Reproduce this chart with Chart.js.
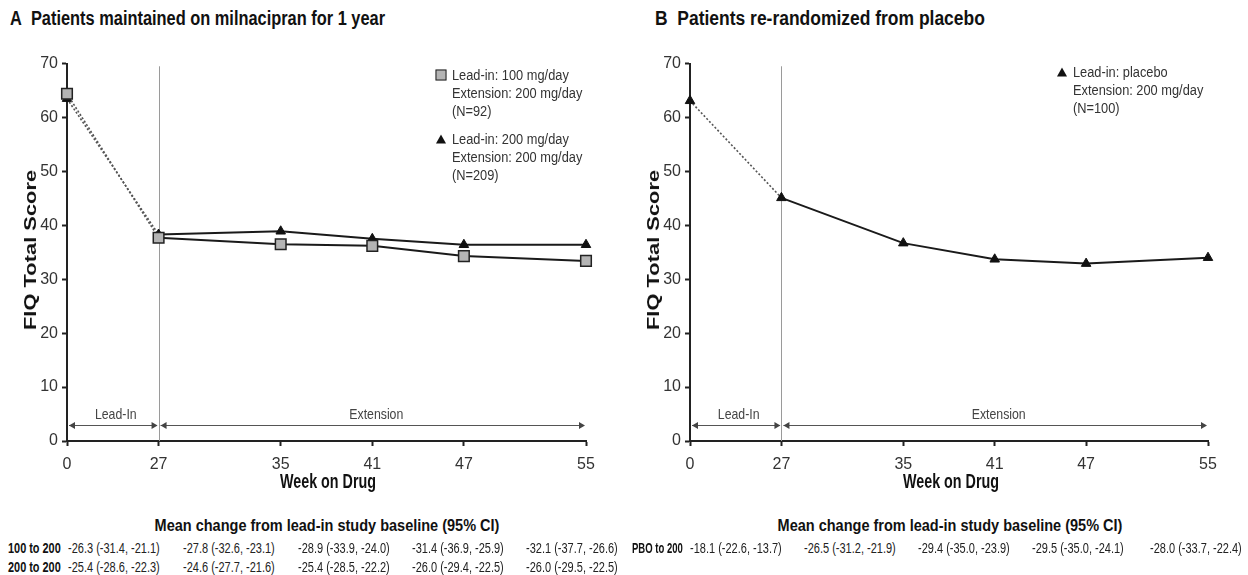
<!DOCTYPE html>
<html><head><meta charset="utf-8">
<script src="https://cdn.jsdelivr.net/npm/chart.js@4.4.0/dist/chart.umd.min.js"></script>
<style>
html,body{margin:0;padding:0;background:#fff;}
body{width:1248px;height:575px;position:relative;overflow:hidden;
 font-family:"Liberation Sans",Arial,sans-serif;color:#222;}
.c{position:absolute;white-space:nowrap;transform:translate(-50%,-50%);transform-origin:50% 50%;}
.l{position:absolute;white-space:nowrap;transform:translateY(-50%);transform-origin:0 50%;}
.title{font-weight:bold;font-size:20px;color:#111;}
.ytitle{position:absolute;white-space:nowrap;font-weight:bold;font-size:16px;color:#111;transform:translate(-50%,-50%) rotate(-90deg);transform-origin:50% 50%;}
.xtitle{font-weight:bold;font-size:20px;color:#111;}
.thead{font-weight:bold;font-size:16px;color:#111;}
.cell{font-size:14px;color:#222;}
.rowlab{font-size:14px;font-weight:bold;color:#111;}
.leg{font-size:14px;color:#333;line-height:18px;}
.sq{position:absolute;width:9px;height:9px;background:#b4b4b4;border:1.5px solid #222;transform:translate(-50%,-50%);}
.tri{position:absolute;width:0;height:0;border-left:5px solid transparent;border-right:5px solid transparent;border-bottom:9px solid #111;transform:translate(-50%,-50%);}
.box{position:absolute;}
</style></head>
<body>
<div class="l title fit" data-w="375" style="left:10px;top:18px">A&nbsp; Patients maintained on milnacipran for 1 year</div>
<div class="l title fit" data-w="330" style="left:655px;top:18px">B&nbsp; Patients re-randomized from placebo</div>

<div class="box" style="left:0;top:50px;width:620px;height:430px"><canvas id="cA"></canvas></div>
<div class="box" style="left:623px;top:50px;width:625px;height:430px"><canvas id="cB"></canvas></div>

<div class="ytitle fit" data-w="160" style="left:31px;top:250px">FIQ Total Score</div>
<div class="ytitle fit" data-w="160" style="left:654px;top:250px">FIQ Total Score</div>
<div class="c xtitle fit" data-w="96" style="left:328px;top:481px">Week on Drug</div>
<div class="c xtitle fit" data-w="96" style="left:951px;top:481px">Week on Drug</div>

<div class="sq" style="left:441px;top:75px"></div>
<div class="l leg fit" data-w="130" style="left:452px;top:93px">Lead-in: 100 mg/day<br>Extension: 200 mg/day<br>(N=92)</div>
<div class="tri" style="left:441px;top:139px"></div>
<div class="l leg fit" data-w="130" style="left:452px;top:157px">Lead-in: 200 mg/day<br>Extension: 200 mg/day<br>(N=209)</div>
<div class="tri" style="left:1062px;top:72px"></div>
<div class="l leg fit" data-w="130" style="left:1073px;top:90px">Lead-in: placebo<br>Extension: 200 mg/day<br>(N=100)</div>

<div id="tables"></div>

<script>
// ---------------- data ----------------
const weeks = [0, 27, 35, 41, 47, 55];
const weekLabels = ['0', '27', '35', '41', '47', '55'];
const seriesA100 = [64.4, 37.7, 36.5, 36.2, 34.3, 33.4];
const seriesA200 = [63.5, 38.3, 38.9, 37.5, 36.4, 36.4];
const seriesB = [63.1, 45.1, 36.7, 33.7, 32.9, 34.0];
const legendA100 = 'Lead-in: 100 mg/day, Extension: 200 mg/day (N=92)';
const legendA200 = 'Lead-in: 200 mg/day, Extension: 200 mg/day (N=209)';
const legendB = 'Lead-in: placebo, Extension: 200 mg/day (N=100)';
const tableHeader = 'Mean change from lead-in study baseline (95% CI)';
const rowLabelsA = ['100 to 200', '200 to 200'];
const row100 = ['-26.3 (-31.4, -21.1)', '-27.8 (-32.6, -23.1)', '-28.9 (-33.9, -24.0)', '-31.4 (-36.9, -25.9)', '-32.1 (-37.7, -26.6)'];
const row200 = ['-25.4 (-28.6, -22.3)', '-24.6 (-27.7, -21.6)', '-25.4 (-28.5, -22.2)', '-26.0 (-29.4, -22.5)', '-26.0 (-29.5, -22.5)'];
const rowLabelsB = ['PBO to 200'];
const rowPbo = ['-18.1 (-22.6, -13.7)', '-26.5 (-31.2, -21.9)', '-29.4 (-35.0, -23.9)', '-29.5 (-35.0, -24.1)', '-28.0 (-33.7, -22.4)'];

// ---------------- layout helpers ----------------
const FONT = '"Liberation Sans",Arial,sans-serif';
const LEAD_WEEKS = 27, LEAD_SPAN = 6; // lead-in period is drawn compressed on the axis
function axisPos(w) { return w <= LEAD_WEEKS ? (LEAD_WEEKS - LEAD_SPAN) + w * LEAD_SPAN / LEAD_WEEKS : w; }
function pts(vals) { return weeks.map((w, i) => ({x: axisPos(w), y: vals[i]})); }

const tbl = document.getElementById('tables');
function addText(cls, txt, left, top, center, w) {
  const d = document.createElement('div');
  d.className = (center ? 'c ' : 'l ') + cls + ' fit';
  d.dataset.w = w;
  d.style.left = left + 'px'; d.style.top = top + 'px';
  d.textContent = txt; tbl.appendChild(d); return d;
}
addText('thead', tableHeader, 327, 526, true, 345);
addText('thead', tableHeader, 950, 526, true, 345);
const colA = [68, 183, 298, 412, 526];
addText('rowlab', rowLabelsA[0], 8, 548, false, 53);
addText('rowlab', rowLabelsA[1], 8, 567, false, 53);
row100.forEach((t, i) => addText('cell', t, colA[i], 548, false, 92));
row200.forEach((t, i) => addText('cell', t, colA[i], 567, false, 92));
const colB = [690, 804, 918, 1032, 1150];
addText('rowlab', rowLabelsB[0], 632, 548, false, 51);
rowPbo.forEach((t, i) => addText('cell', t, colB[i], 548, false, 92));

function fitAll() {
  document.querySelectorAll('.fit').forEach(el => {
    const base = el.classList.contains('ytitle') ? 'translate(-50%,-50%) rotate(-90deg)' :
                 el.classList.contains('c') ? 'translate(-50%,-50%)' : 'translateY(-50%)';
    el.style.transform = base;
    const nat = el.offsetWidth;
    const s = nat > 0 ? (+el.dataset.w) / nat : 1;
    el.style.transform = base + ' scaleX(' + s.toFixed(3) + ')';
  });
}
fitAll();

// ---------------- annotation plugin ----------------
const periodPlugin = {
  id: 'period',
  beforeDatasetsDraw(chart) {
    const {ctx, scales: {x, y}} = chart;
    const x0 = x.getPixelForValue(axisPos(0));
    const x27 = x.getPixelForValue(axisPos(27));
    const x55 = x.getPixelForValue(axisPos(55));
    ctx.save();
    ctx.strokeStyle = '#9a9a9a'; ctx.lineWidth = 1;
    ctx.beginPath(); ctx.moveTo(Math.round(x27) + 0.5, y.getPixelForValue(69.5)); ctx.lineTo(Math.round(x27) + 0.5, y.getPixelForValue(0)); ctx.stroke();
    const ay = Math.round(y.getPixelForValue(3)) + 0.5;
    ctx.strokeStyle = '#555'; ctx.fillStyle = '#444'; ctx.lineWidth = 1;
    function head(tip, dir) {
      ctx.beginPath(); ctx.moveTo(tip, ay); ctx.lineTo(tip - dir * 6, ay - 3.5); ctx.lineTo(tip - dir * 6, ay + 3.5); ctx.closePath(); ctx.fill();
    }
    ctx.beginPath(); ctx.moveTo(x0 + 2, ay); ctx.lineTo(x27 - 2, ay); ctx.moveTo(x27 + 2, ay); ctx.lineTo(x55 - 2, ay); ctx.stroke();
    head(x0 + 2, -1); head(x27 - 1, 1); head(x27 + 2, -1); head(x55 - 1, 1);
    ctx.fillStyle = '#444'; ctx.textAlign = 'center'; ctx.textBaseline = 'middle';
    function label(t, cx, cy) {
      ctx.save(); ctx.translate(cx, cy); ctx.scale(0.82, 1);
      ctx.font = '15px ' + FONT; ctx.fillText(t, 0, 0); ctx.restore();
    }
    label('Lead-In', (x0 + x27) / 2 + 3, ay - 11);
    label('Extension', (x27 + x55) / 2 + 4, ay - 11);
    ctx.restore();
  }
};

function makeOptions(padRight) {
  return {
    responsive: true, maintainAspectRatio: false, animation: false,
    layout: {padding: {top: 12, right: padRight, left: 0, bottom: 0}},
    plugins: {legend: {display: false}, tooltip: {enabled: false}},
    scales: {
      x: {
        type: 'linear', min: axisPos(0), max: axisPos(55),
        afterBuildTicks: s => { s.ticks = weeks.map(w => ({value: axisPos(w)})); },
        afterFit: s => { s.height = 39; },
        ticks: {autoSkip: false, maxRotation: 0, padding: 9, color: '#333',
          font: {family: FONT, size: 16},
          callback: (v, i) => weekLabels[i]},
        grid: {display: true, drawOnChartArea: false, drawTicks: true, tickLength: 5, tickColor: '#222', tickWidth: 2},
        border: {display: true, color: '#222', width: 2}
      },
      y: {
        min: 0, max: 70,
        afterFit: s => { s.width = 67; },
        ticks: {stepSize: 10, padding: 4, color: '#333', font: {family: FONT, size: 16}},
        grid: {display: true, drawOnChartArea: false, drawTicks: true, tickLength: 5, tickColor: '#222', tickWidth: 2},
        border: {display: true, color: '#222', width: 2}
      }
    }
  };
}
const leadSeg = {
  borderDash: c => c.p0DataIndex === 0 ? [2, 2] : undefined,
  borderColor: c => c.p0DataIndex === 0 ? '#555' : undefined,
  borderWidth: c => c.p0DataIndex === 0 ? 1.6 : undefined
};

new Chart(document.getElementById('cA'), {
  type: 'line',
  data: {datasets: [
    {label: legendA100, data: pts(seriesA100), order: 1, clip: false, borderColor: '#1a1a1a', borderWidth: 2,
     pointStyle: 'rect', pointRadius: 7.5, pointBackgroundColor: '#b4b4b4', pointBorderColor: '#222', pointBorderWidth: 1.5,
     segment: leadSeg, tension: 0},
    {label: legendA200, data: pts(seriesA200), order: 2, clip: false, borderColor: '#1a1a1a', borderWidth: 2,
     pointStyle: 'triangle', pointRadius: 5.5, pointBackgroundColor: '#111', pointBorderColor: '#111', pointBorderWidth: 1,
     segment: leadSeg, tension: 0}
  ]},
  options: makeOptions(34),
  plugins: [periodPlugin]
});

new Chart(document.getElementById('cB'), {
  type: 'line',
  data: {datasets: [
    {label: legendB, data: pts(seriesB), clip: false, borderColor: '#1a1a1a', borderWidth: 2,
     pointStyle: 'triangle', pointRadius: 5.5, pointBackgroundColor: '#111', pointBorderColor: '#111', pointBorderWidth: 1,
     segment: leadSeg, tension: 0}
  ]},
  options: makeOptions(40),
  plugins: [periodPlugin]
});
if (document.fonts && document.fonts.ready) document.fonts.ready.then(fitAll);
</script>
</body></html>
